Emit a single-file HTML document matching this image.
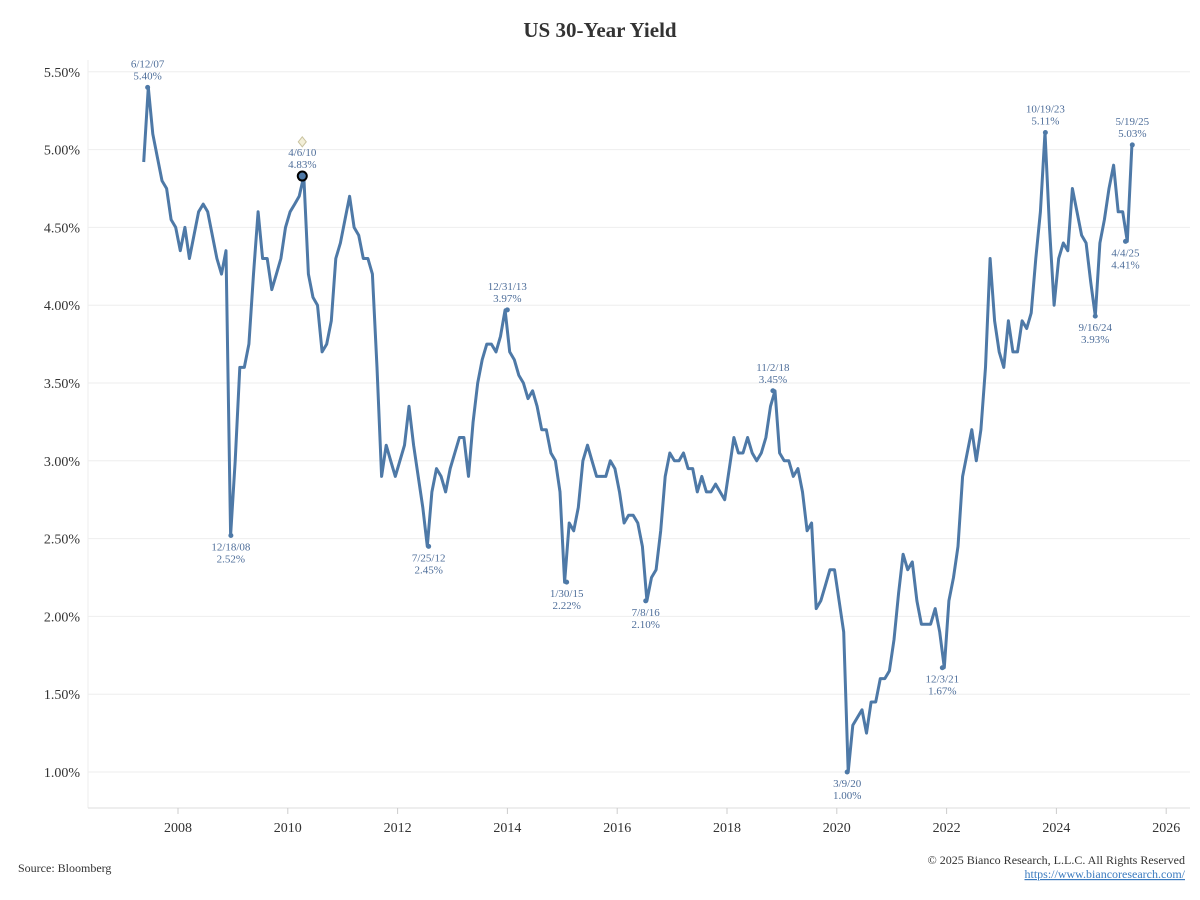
<!DOCTYPE html>
<html><head><meta charset="utf-8">
<style>
body{margin:0;background:#fff;font-family:"Liberation Serif",serif;}
svg{display:block}
</style></head>
<body>
<svg id="chart" width="1200" height="900">
<text x="600" y="37" text-anchor="middle" font-size="21" font-weight="bold" fill="#333">US 30-Year Yield</text>
<g id="grid"></g><g id="yaxis"></g><g id="xaxis"></g><g id="series"></g><g id="ann"></g>
<text x="18" y="872" font-size="12" fill="#333">Source: Bloomberg</text>
<text x="1185" y="864" text-anchor="end" font-size="12" fill="#333">© 2025 Bianco Research, L.L.C. All Rights Reserved</text>
<text x="1185" y="878" text-anchor="end" font-size="12" fill="#3b7bbf" text-decoration="underline">https://www.biancoresearch.com/</text>
</svg>
<script>
const startYear = 2007, startMonth = 4; // May 2007
const yields = [
4.92,5.40,5.10,4.95,4.80,4.75,4.55,4.50,
4.35,4.50,4.30,4.45,4.60,4.65,4.60,4.45,4.30,4.20,4.35,2.52,
3.00,3.60,3.60,3.75,4.20,4.60,4.30,4.30,4.10,4.20,4.30,4.50,
4.60,4.65,4.70,4.83,4.20,4.05,4.00,3.70,3.75,3.90,4.30,4.40,
4.55,4.70,4.50,4.45,4.30,4.30,4.20,3.60,2.90,3.10,3.00,2.90,
3.00,3.10,3.35,3.10,2.90,2.70,2.45,2.80,2.95,2.90,2.80,2.95,
3.05,3.15,3.15,2.90,3.25,3.50,3.65,3.75,3.75,3.70,3.80,3.97,
3.70,3.65,3.55,3.50,3.40,3.45,3.35,3.20,3.20,3.05,3.00,2.80,
2.22,2.60,2.55,2.70,3.00,3.10,3.00,2.90,2.90,2.90,3.00,2.95,
2.80,2.60,2.65,2.65,2.60,2.45,2.10,2.25,2.30,2.55,2.90,3.05,
3.00,3.00,3.05,2.95,2.95,2.80,2.90,2.80,2.80,2.85,2.80,2.75,
2.95,3.15,3.05,3.05,3.15,3.05,3.00,3.05,3.15,3.35,3.45,3.05,
3.00,3.00,2.90,2.95,2.80,2.55,2.60,2.05,2.10,2.20,2.30,2.30,
2.10,1.90,1.00,1.30,1.35,1.40,1.25,1.45,1.45,1.60,1.60,1.65,
1.85,2.15,2.40,2.30,2.35,2.10,1.95,1.95,1.95,2.05,1.90,1.67,
2.10,2.25,2.45,2.90,3.05,3.20,3.00,3.20,3.60,4.30,3.90,3.70,
3.60,3.90,3.70,3.70,3.90,3.85,3.95,4.30,4.60,5.11,4.50,4.00,
4.30,4.40,4.35,4.75,4.60,4.45,4.40,4.15,3.93,4.40,4.55,4.75,
4.90,4.60,4.60,4.41,5.03];
const yTicks = [1.0,1.5,2.0,2.5,3.0,3.5,4.0,4.5,5.0,5.5];
const xTicks = [2008,2010,2012,2014,2016,2018,2020,2022,2024,2026];
const annDates = ["6/12/07","12/18/08","4/6/10","12/31/13","7/25/12","1/30/15","7/8/16","11/2/18","3/9/20","12/3/21","10/19/23","9/16/24","5/19/25","4/4/25"];
const annValues = [5.40,2.52,4.83,3.97,2.45,2.22,2.10,3.45,1.00,1.67,5.11,3.93,5.03,4.41];
const annAbove = [true,false,true,true,false,false,false,true,false,false,true,false,true,false];

const NS="http://www.w3.org/2000/svg";
const Y=v=>772-(v-1.0)*155.6;
const X=t=>178+(t-2008)*54.9;
function el(tag,attrs,parent){const e=document.createElementNS(NS,tag);for(const k in attrs)e.setAttribute(k,attrs[k]);parent.appendChild(e);return e;}
const grid=document.getElementById('grid'),ya=document.getElementById('yaxis'),xa=document.getElementById('xaxis'),ser=document.getElementById('series'),ann=document.getElementById('ann');
yTicks.forEach(v=>{
  const l=el('line',{x1:88,x2:1190,y1:Y(v),y2:Y(v),stroke:'#eeeeee'},grid);
  
  
  const t=el('text',{x:80,y:Y(v)+5,'text-anchor':'end','font-size':14,fill:'#333'},ya);
  t.textContent=v.toFixed(2)+'%';
  
  
});
const ax=el('line',{x1:88,x2:1190,y1:808,y2:808,stroke:'#ddd'},xa);


const ay=el('line',{x1:88,x2:88,y1:60,y2:808,stroke:'#eee'},ya);


xTicks.forEach(yr=>{
  const tk=el('line',{x1:X(yr),x2:X(yr),y1:808,y2:814,stroke:'#ccc'},xa);
  
  
  const t=el('text',{x:X(yr),y:832,'text-anchor':'middle','font-size':14,fill:'#333'},xa);
  t.textContent=yr;
  
  
});
let d='';
yields.forEach((v,i)=>{const m=startMonth+i;const t=startYear+(m+0.5)/12;d+=(i?'L':'M')+X(t).toFixed(1)+','+Y(v).toFixed(1);});
const p=el('path',{d:d,fill:'none',stroke:'#4e79a7','stroke-width':3,'stroke-linejoin':'round'},ser);


function dateToT(s){const [m,dd,yy]=s.split('/').map(Number);return 2000+yy+(m-1)/12+(dd-1)/365;}
annDates.forEach((s,i)=>{
  const x=X(dateToT(s)),y=Y(annValues[i]);
  const big=s==="4/6/10";
  if(big){
    const dm=el('path',{d:`M${x},${Y(5.05)-5}L${x+4},${Y(5.05)}L${x},${Y(5.05)+5}L${x-4},${Y(5.05)}Z`,fill:'#f3efd8',stroke:'#c9c3a0'},ann);
    
    
  }
  const c=el('circle',{cx:x,cy:y,r:big?4.5:2.5,fill:big?'#4e79a7':'#4e79a7',stroke:big?'#000':'none','stroke-width':2},ann);
  
  
  const y1=annAbove[i]?y-20:y+15, y2=annAbove[i]?y-8:y+27;
  const t1=el('text',{x:x,y:y1,'text-anchor':'middle','font-size':11,fill:'#4e6e9a'},ann);
  t1.textContent=s;
  
  
  const t2=el('text',{x:x,y:y2,'text-anchor':'middle','font-size':11,fill:'#4e6e9a'},ann);
  t2.textContent=annValues[i].toFixed(2)+'%';
  
  
});
</script>
</body></html>
